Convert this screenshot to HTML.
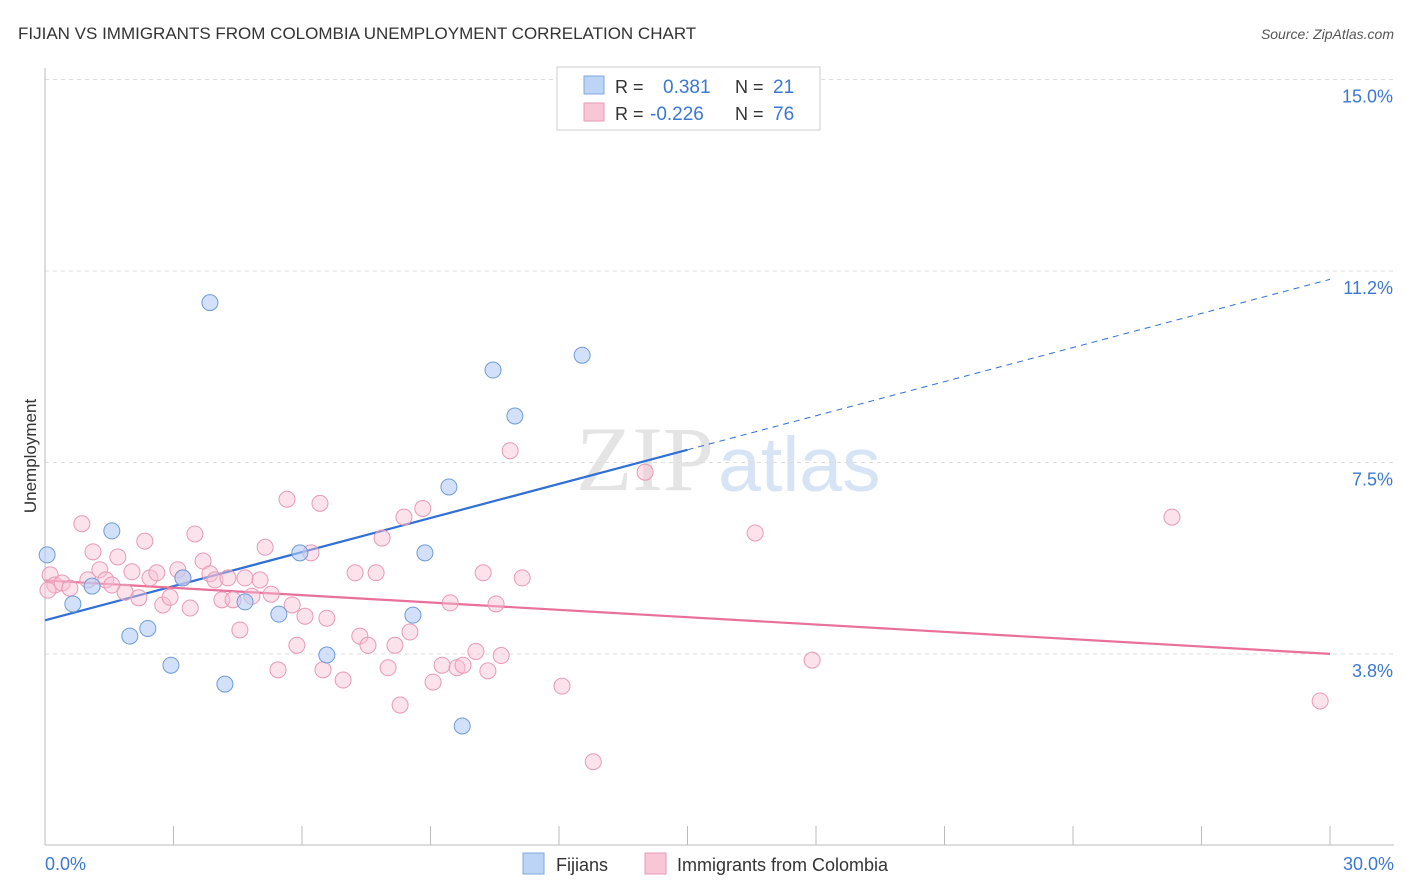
<!DOCTYPE html>
<html><head><meta charset="utf-8"><style>
body{margin:0;background:#fff;font-family:"Liberation Sans",sans-serif}
svg{display:block}
</style></head><body>
<svg id="chart" width="1406" height="892" viewBox="0 0 1406 892">
<text x="18" y="39" font-size="17" fill="#333">FIJIAN VS IMMIGRANTS FROM COLOMBIA UNEMPLOYMENT CORRELATION CHART</text>
<text x="1394" y="39" font-size="14" fill="#555" font-style="italic" text-anchor="end">Source: ZipAtlas.com</text>
<text x="714" y="490" font-size="92" fill="#e4e4e4" text-anchor="end" font-family="Liberation Serif">ZIP</text>
<text x="718" y="491" font-size="77" fill="#d6e4f5">atlas</text>
<g id="grid"></g><g id="axes"></g><g id="lines"></g><g id="pts"></g>
<text x="36" y="456" font-size="17" fill="#333" text-anchor="middle" transform="rotate(-90 36 456)">Unemployment</text>
<g>
<rect x="557" y="67" width="263" height="63" fill="#fff" stroke="#ccc"/>
<rect x="584" y="76" width="20" height="18" fill="#bcd4f5" stroke="#7fa8e0"/>
<text x="615" y="93" font-size="18" fill="#333">R = </text><text x="663" y="93" font-size="19" fill="#3a78d4">0.381</text>
<text x="735" y="93" font-size="18" fill="#333">N = </text><text x="773" y="93" font-size="19" fill="#3a78d4">21</text>
<rect x="584" y="103" width="20" height="18" fill="#f8c6d5" stroke="#e99ab3"/>
<text x="615" y="120" font-size="18" fill="#333">R = </text><text x="650" y="120" font-size="19" fill="#3a78d4">-0.226</text>
<text x="735" y="120" font-size="18" fill="#333">N = </text><text x="773" y="120" font-size="19" fill="#3a78d4">76</text>
</g>
<g>
<rect x="523" y="853" width="21" height="21" fill="#bcd4f5" stroke="#7fa8e0"/>
<text x="556" y="871" font-size="18" fill="#333">Fijians</text>
<rect x="645" y="853" width="21" height="21" fill="#f8c6d5" stroke="#e99ab3"/>
<text x="677" y="871" font-size="18" fill="#333">Immigrants from Colombia</text>
</g>
</svg>
<script>
const yTicks=[3.8,7.5,11.2,15.0];
const yTickVals=[3.75,7.5,11.25,15];
const fijianX=[0.05,0.65,1.1,1.56,1.98,2.4,2.94,3.22,3.85,4.2,4.67,5.46,5.95,6.58,8.59,8.87,9.43,9.74,10.46,10.97,12.54];
const fijianY=[5.69,4.73,5.08,6.16,4.1,4.25,3.53,5.24,10.63,3.16,4.77,4.53,5.73,3.73,4.51,5.73,7.02,2.34,9.31,8.41,9.6];
const colX=[0.12,0.23,0.4,0.58,0.86,1.0,1.12,1.28,1.42,1.56,1.7,1.87,2.03,2.19,2.33,2.45,2.61,2.75,2.92,3.1,3.22,3.39,3.5,3.69,3.85,3.97,4.13,4.27,4.39,4.55,4.67,4.83,5.02,5.14,5.28,5.44,5.65,5.77,5.88,6.07,6.21,6.42,6.49,6.58,6.96,7.24,7.35,7.54,7.73,8.01,8.17,8.29,8.38,8.52,8.82,9.06,9.27,9.46,9.62,9.76,10.06,10.23,10.34,10.53,10.65,10.86,11.14,12.07,12.8,14.01,16.58,17.91,26.31,29.77,7.87,0.07];
const colY=[5.3,5.1,5.14,5.04,6.3,5.2,5.75,5.4,5.2,5.1,5.65,4.96,5.36,4.85,5.96,5.24,5.34,4.71,4.86,5.4,5.24,4.65,6.1,5.57,5.32,5.2,4.81,5.24,4.81,4.22,5.24,4.88,5.2,5.84,4.92,3.44,6.78,4.71,3.92,4.49,5.73,6.7,3.44,4.45,3.24,5.34,4.1,3.92,5.34,3.48,3.92,2.75,6.43,4.18,6.6,3.2,3.53,4.75,3.48,3.53,3.8,5.34,3.42,4.73,3.72,7.73,5.24,3.12,1.64,7.31,6.12,3.63,6.43,2.83,6.02,5.0];
const xMin=0,xMax=30,yMax=15;
function X(v){return 45+(v-xMin)/(xMax-xMin)*1285;}
function Y(v){return 845.5-v*51.07;}
const NS="http://www.w3.org/2000/svg";
function mk(t,a,p){const e=document.createElementNS(NS,t);for(const k in a)e.setAttribute(k,a[k]);p.appendChild(e);return e;}
const grid=document.getElementById('grid'),axes=document.getElementById('axes'),lines=document.getElementById('lines'),pts=document.getElementById('pts');
yTickVals.forEach((v,i)=>{
 const l=mk('line',{x1:45,x2:1394,y1:Y(v),y2:Y(v),stroke:'#ddd','stroke-dasharray':'4,4'},grid);
 
 
 const t=mk('text',{x:1393,y:Y(v)+23,'font-size':18,fill:'#3a78d4','text-anchor':'end'},axes);
 t.textContent=yTicks[i].toFixed(1)+'%';
 
 
});
mk('line',{x1:45,x2:45,y1:68,y2:845,stroke:'#bbb'},axes);
mk('line',{x1:45,x2:1394,y1:845,y2:845,stroke:'#bbb'},axes);
for(let i=0;i<=10;i++){const tk=mk('line',{x1:X(i*3),x2:X(i*3),y1:826,y2:845,stroke:'#bbb'},axes);}
const x0=mk('text',{x:45,y:870,'font-size':18,fill:'#3a78d4'},axes);x0.textContent='0.0%';

const x1=mk('text',{x:1394,y:870,'font-size':18,fill:'#3a78d4','text-anchor':'end'},axes);x1.textContent='30.0%';

function fit(xs,ys){const n=xs.length;let mx=0,my=0;for(let i=0;i<n;i++){mx+=xs[i];my+=ys[i];}mx/=n;my/=n;let sxy=0,sxx=0;for(let i=0;i<n;i++){sxy+=(xs[i]-mx)*(ys[i]-my);sxx+=(xs[i]-mx)**2;}const b=sxy/sxx;return [my-b*mx,b];}
colX.forEach((v,i)=>{const c=mk('circle',{cx:X(v),cy:Y(colY[i]),r:8,fill:'rgba(248,190,210,0.45)',stroke:'#e99ab3','stroke-width':1},pts);});
fijianX.forEach((v,i)=>{const c=mk('circle',{cx:X(v),cy:Y(fijianY[i]),r:8,fill:'rgba(180,205,245,0.6)',stroke:'#6f9bd8','stroke-width':1},pts);});
const [fa,fb]=fit(fijianX,fijianY);
const fx=15;
const l1=mk('line',{x1:X(0),y1:Y(fa),x2:X(fx),y2:Y(fa+fb*fx),stroke:'#2f6fd6','stroke-width':2.2},lines);

const l2=mk('line',{x1:X(fx),y1:Y(fa+fb*fx),x2:X(30),y2:Y(fa+fb*30),stroke:'#2f6fd6','stroke-width':1,'stroke-dasharray':'6,5'},lines);

const [ca,cb]=fit(colX,colY);
const l3=mk('line',{x1:X(0),y1:Y(ca),x2:X(30),y2:Y(ca+cb*30),stroke:'#e8709a','stroke-width':2.2},lines);

</script>
</body></html>
